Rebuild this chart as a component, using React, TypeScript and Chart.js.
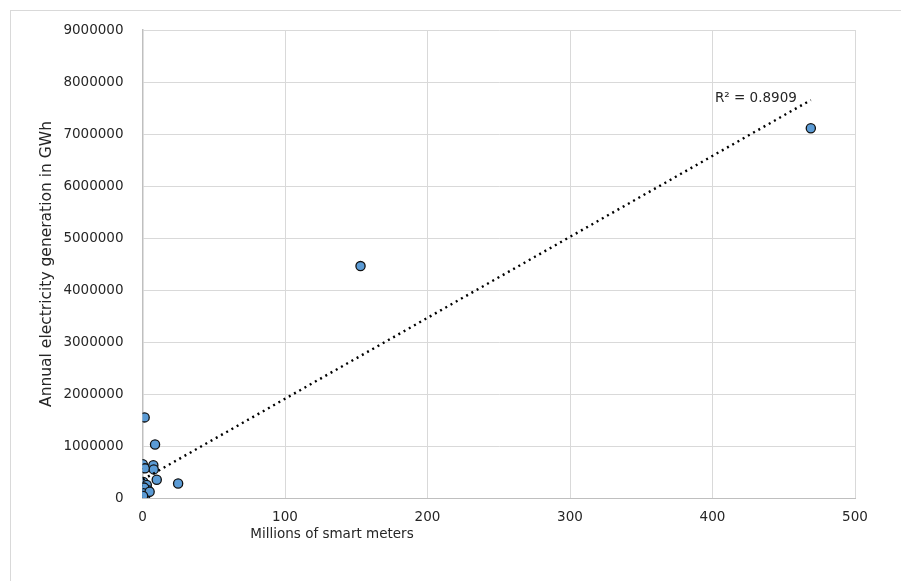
import React, { useEffect, useRef } from "react";
import { Chart, registerables } from "chart.js";

Chart.register(...registerables);

// Millions of smart meters (x) per country
const meters: number[] = [
  469, 153, 1.5, 8.8, 0.2, 1.8, 7.6, 7.9, 10, 25, 0.6, 3, 4, 0.3, 0.2, 1.8, 0.8, 2.5, 1.2, 0.5, 5, 0.4,
];
// Annual electricity generation in GWh (y)
const generation: number[] = [
  7110000, 4460000, 1550000, 1030000, 650000, 570000, 630000, 550000, 350000, 280000, 310000, 250000,
  150000, 150000, 10000, 30000, 60000, 100000, 200000, 90000, 120000, 40000,
];

const xTickValues: number[] = [0, 100, 200, 300, 400, 500];
const yTickValues: number[] = [0, 1000000, 2000000, 3000000, 4000000, 5000000, 6000000, 7000000, 8000000, 9000000];

const X_TITLE = "Millions of smart meters";
const Y_TITLE = "Annual electricity generation in GWh";
const R2_TEXT = "R² = 0.8909";

const FONT = "'DejaVu Sans', sans-serif";
const TEXT_COLOR = "#262626";

function linreg(xs: number[], ys: number[]) {
  const n = xs.length;
  const mx = xs.reduce((a, b) => a + b, 0) / n;
  const my = ys.reduce((a, b) => a + b, 0) / n;
  let sxy = 0;
  let sxx = 0;
  for (let i = 0; i < n; i++) {
    sxy += (xs[i] - mx) * (ys[i] - my);
    sxx += (xs[i] - mx) * (xs[i] - mx);
  }
  const slope = sxy / sxx;
  return { slope, intercept: my - slope * mx };
}

export default function App() {
  const ref = useRef<HTMLCanvasElement | null>(null);

  useEffect(() => {
    if (!ref.current) return;
    const { slope, intercept } = linreg(meters, generation);
    const xMin = Math.min(...meters);
    const xMax = Math.max(...meters);
    const trend = [
      { x: xMin, y: intercept + slope * xMin },
      { x: xMax, y: intercept + slope * xMax },
    ];

    const labelsPlugin = {
      id: "labelsPlugin",
      afterDraw(chart: any) {
        const ctx = chart.ctx as CanvasRenderingContext2D;
        const area = chart.chartArea;
        ctx.save();
        ctx.fillStyle = TEXT_COLOR;
        // x title
        ctx.font = `13.5px ${FONT}`;
        ctx.textAlign = "center";
        ctx.textBaseline = "middle";
        ctx.fillText(X_TITLE, 332, area.bottom + 36);
        // y title
        ctx.save();
        ctx.font = `15.5px ${FONT}`;
        ctx.translate(47, (area.top + area.bottom) / 2);
        ctx.rotate(-Math.PI / 2);
        ctx.fillText(Y_TITLE, 0, 0);
        ctx.restore();
        // R² label near trendline end
        ctx.font = `13.5px ${FONT}`;
        const xs = chart.scales.x;
        const ys = chart.scales.y;
        const ex = xs.getPixelForValue(trend[1].x);
        const ey = ys.getPixelForValue(trend[1].y);
        ctx.textAlign = "right";
        ctx.textBaseline = "middle";
        ctx.fillText(R2_TEXT, ex - 14, ey - 2);
        ctx.restore();
      },
    };

    const chart = new Chart(ref.current, {
      type: "scatter",
      data: {
        datasets: [
          {
            type: "line",
            data: trend,
            borderColor: "#000000",
            borderWidth: 2.4,
            borderDash: [2, 4],
            pointRadius: 0,
            fill: false,
            order: 0,
          } as any,
          {
            type: "scatter",
            data: meters.map((m, i) => ({ x: m, y: generation[i] })),
            backgroundColor: "#5b9bd5",
            borderColor: "#111111",
            borderWidth: 1.3,
            pointRadius: 4.6,
            pointHoverRadius: 4.6,
            order: 1,
          },
        ],
      },
      options: {
        animation: false,
        responsive: false,
        devicePixelRatio: 1,
        layout: { padding: { top: 30, right: 46, left: 0, bottom: 0 } },
        plugins: {
          legend: { display: false },
          tooltip: { enabled: false },
        },
        scales: {
          x: {
            type: "linear",
            min: 0,
            max: 500,
            afterBuildTicks: (scale: any) => {
              scale.ticks = xTickValues.map((v) => ({ value: v }));
            },
            afterFit: (scale: any) => {
              scale.height = 83;
            },
            ticks: {
              font: { family: FONT, size: 13.5 },
              color: TEXT_COLOR,
              padding: 11,
              maxRotation: 0,
            },
            grid: { color: "#d9d9d9", drawTicks: false, lineWidth: 1 },
            border: { color: "#bfbfbf", width: 1 },
          },
          y: {
            type: "linear",
            min: 0,
            max: 9000000,
            afterBuildTicks: (scale: any) => {
              scale.ticks = yTickValues.map((v) => ({ value: v }));
            },
            afterFit: (scale: any) => {
              scale.width = 142.5;
            },
            ticks: {
              font: { family: FONT, size: 13.5 },
              color: TEXT_COLOR,
              padding: 19,
              callback: (v: any) => String(v),
            },
            grid: { color: "#d9d9d9", drawTicks: false, lineWidth: 1 },
            border: { color: "#bfbfbf", width: 1.5 },
          },
        },
      },
      plugins: [labelsPlugin],
    } as any);

    return () => chart.destroy();
  }, []);

  return (
    <div style={{ position: "fixed", left: 0, top: 0, width: 901, height: 581, background: "#ffffff" }}>
      <div
        style={{
          position: "absolute",
          left: 10,
          top: 10,
          width: 900,
          height: 580,
          border: "1px solid #d9d9d9",
          boxSizing: "border-box",
        }}
      />
      <canvas ref={ref} width={901} height={581} style={{ position: "absolute", left: 0, top: 0, width: 901, height: 581 }} />
    </div>
  );
}
